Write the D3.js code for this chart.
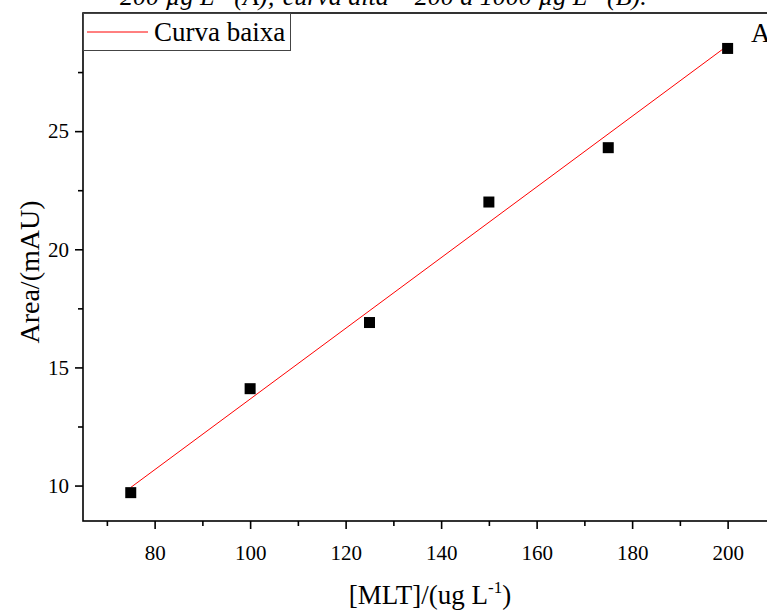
<!DOCTYPE html>
<html>
<head>
<meta charset="utf-8">
<script src="https://cdn.jsdelivr.net/npm/d3@7"></script>
<style>
  body { margin: 0; background: #fff; }
  svg { display: block; }
  text { font-family: "Liberation Serif", "Times New Roman", serif; fill: #000; }
</style>
</head>
<body>
<div id="chart"></div>
<script>
// concentrations and peak areas
const concentrations = [75, 100, 125, 150, 175, 200];
const areas = [9.7, 14.1, 16.9, 22.0, 24.3, 28.5];
// fitted line end points
const fitX = [75, 200];
const fitY = [9.92, 28.62];
const xMajor = [80, 100, 120, 140, 160, 180, 200];
const xMinor = [70, 90, 110, 130, 150, 170, 190, 210];
const yMajor = [10, 15, 20, 25];
const yMinor = [12.5, 17.5, 22.5, 27.5];

const width = 767;
const height = 612;
const margin = { top: 13, left: 83, bottom: 521 };

const svg = d3.select('#chart')
  .append('svg')
  .attr('width', width)
  .attr('height', height);

const xScale = d3.scaleLinear().domain([65, 215]).range([margin.left, margin.left + 150 * 4.775]);
const yScale = d3.scaleLinear().domain([8.5, 30]).range([margin.bottom, margin.top]);

// caption cut at the top of the crop
const cap = svg.append('text')
  .attr('x', 120)
  .attr('y', 5)
  .style('font-size', '26px')
  .style('font-style', 'italic');
cap.append('tspan').text('200 µg L');
cap.append('tspan').attr('dy', -9).style('font-size', '16px').text('-1');
cap.append('tspan').attr('dy', 9).text(' (A); curva alta – 200 a 1000 µg L');
cap.append('tspan').attr('dy', -9).style('font-size', '16px').text('-1');
cap.append('tspan').attr('dy', 9).text(' (B).');

// frame (top and left visible, right side cut off)
svg.append('rect')
  .attr('x', margin.left)
  .attr('y', margin.top)
  .attr('width', 800)
  .attr('height', margin.bottom - margin.top)
  .attr('fill', 'none')
  .attr('stroke', '#000')
  .attr('stroke-width', 1.6);

// x axis
const xAxis = svg.append('g').attr('transform', `translate(0,${margin.bottom})`);
xAxis.call(d3.axisBottom(xScale).tickValues(xMajor).tickSize(8).tickPadding(16).tickFormat(d3.format('d')));
xAxis.append('g').call(d3.axisBottom(xScale).tickValues(xMinor).tickSize(5).tickFormat(''));
xAxis.selectAll('.domain').remove();

// y axis
const yAxis = svg.append('g').attr('transform', `translate(${margin.left},0)`);
yAxis.call(d3.axisLeft(yScale).tickValues(yMajor).tickSize(8).tickPadding(6).tickFormat(d3.format('d')));
yAxis.append('g').call(d3.axisLeft(yScale).tickValues(yMinor).tickSize(5).tickFormat(''));
yAxis.selectAll('.domain').remove();

svg.selectAll('.tick line').attr('stroke', '#000').attr('stroke-width', 1.6);
svg.selectAll('g.tick text')
  .attr('font-family', null)
  .style('font-family', '"Liberation Serif", serif')
  .style('font-size', '21px');

// fit line
svg.append('line')
  .attr('x1', xScale(fitX[0]))
  .attr('y1', yScale(fitY[0]))
  .attr('x2', xScale(fitX[1]))
  .attr('y2', yScale(fitY[1]))
  .attr('stroke', '#ff0000')
  .attr('stroke-width', 1);

// points
const size = 11;
svg.append('g')
  .selectAll('rect')
  .data(concentrations)
  .join('rect')
  .attr('x', (d) => xScale(d) - size / 2)
  .attr('y', (d, i) => yScale(areas[i]) - size / 2)
  .attr('width', size)
  .attr('height', size)
  .attr('fill', '#000');

// legend
const legend = svg.append('g');
legend.append('rect')
  .attr('x', margin.left + 0.5)
  .attr('y', margin.top + 0.5)
  .attr('width', 207)
  .attr('height', 37)
  .attr('fill', 'none')
  .attr('stroke', '#444')
  .attr('stroke-width', 1);
legend.append('line')
  .attr('x1', 87).attr('x2', 148)
  .attr('y1', 32).attr('y2', 32)
  .attr('stroke', '#ff0000')
  .attr('stroke-width', 1);
legend.append('text')
  .attr('x', 154)
  .attr('y', 41)
  .style('font-size', '27px')
  .text('Curva baixa');

// panel letter
svg.append('text')
  .attr('x', 751)
  .attr('y', 42)
  .style('font-size', '27px')
  .text('A');

// axis titles
svg.append('text')
  .attr('transform', 'translate(39,272) rotate(-90)')
  .attr('text-anchor', 'middle')
  .style('font-size', '28px')
  .text('Area/(mAU)');

const xt = svg.append('text')
  .attr('x', 430)
  .attr('y', 604)
  .attr('text-anchor', 'middle')
  .style('font-size', '27px');
xt.append('tspan').text('[MLT]/(ug L');
xt.append('tspan').attr('dy', -11).style('font-size', '17px').text('-1');
xt.append('tspan').attr('dy', 11).text(')');
</script>
</body>
</html>
